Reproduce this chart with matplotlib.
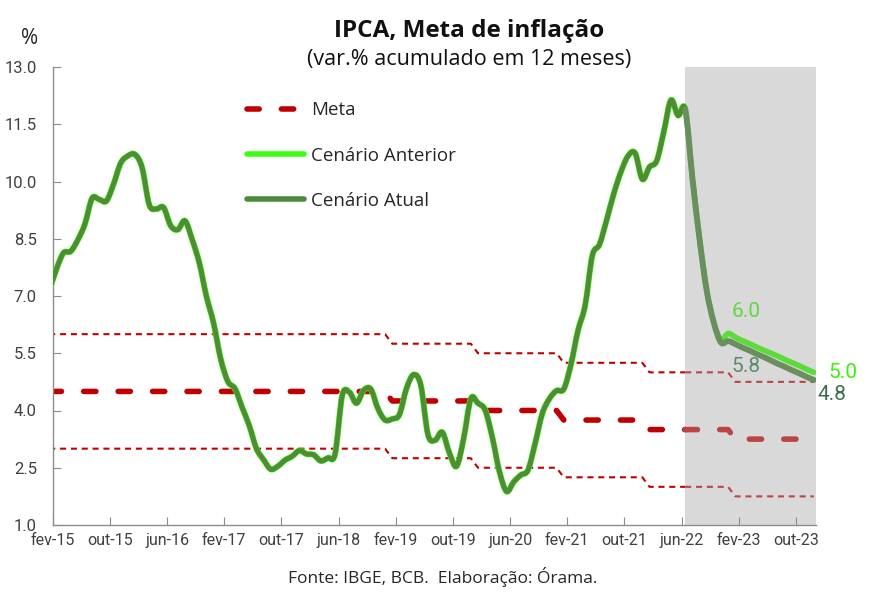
import numpy as np
import matplotlib
matplotlib.use("Agg")
import matplotlib.pyplot as plt
from matplotlib.lines import Line2D
from matplotlib.path import Path
from matplotlib.patches import PathPatch

plt.rcParams['font.family'] = ['Open Sans', 'DejaVu Sans']

# ---------------- data ----------------
# IPCA 12-month accumulated, monthly, Jan-2015 .. Jun-2022 (realized)
ipca_hist = [
    7.14, 7.70, 8.13, 8.17, 8.47, 8.89, 9.56, 9.53, 9.49, 9.93, 10.48, 10.67,   # 2015
    10.71, 10.36, 9.39, 9.28, 9.32, 8.84, 8.74, 8.97, 8.48, 7.87, 6.99, 6.29,   # 2016
    5.35, 4.76, 4.57, 4.08, 3.60, 3.00, 2.71, 2.46, 2.54, 2.70, 2.80, 2.95,     # 2017
    2.86, 2.84, 2.68, 2.76, 2.86, 4.39, 4.48, 4.19, 4.53, 4.56, 4.05, 3.75,     # 2018
    3.78, 3.89, 4.58, 4.94, 4.66, 3.37, 3.22, 3.43, 2.89, 2.54, 3.27, 4.31,     # 2019
    4.19, 4.01, 3.30, 2.40, 1.88, 2.13, 2.31, 2.44, 3.14, 3.92, 4.31, 4.52,     # 2020
    4.56, 5.20, 6.10, 6.76, 8.06, 8.35, 8.99, 9.68, 10.25, 10.67, 10.74, 10.06, # 2021
    10.38, 10.54, 11.30, 12.13, 11.73, 11.89,                                   # 2022 H1
]
# Projections Jul-2022 .. Dec-2023
cenario_atual = [10.10, 8.50, 7.15, 6.30, 5.78, 5.82,
                 5.74, 5.65, 5.57, 5.48, 5.40, 5.31, 5.22, 5.14, 5.05, 4.97, 4.88, 4.80]
cenario_anterior = [10.10, 8.50, 7.15, 6.30, 5.86, 6.02,
                    5.92, 5.83, 5.75, 5.66, 5.58, 5.50, 5.42, 5.33, 5.25, 5.17, 5.08, 5.00]
# Inflation target and tolerance band by year 2015..2023
anos = [2015, 2016, 2017, 2018, 2019, 2020, 2021, 2022, 2023]
meta_anual = [4.5, 4.5, 4.5, 4.5, 4.25, 4.0, 3.75, 3.5, 3.25]
teto_anual = [6.0, 6.0, 6.0, 6.0, 5.75, 5.5, 5.25, 5.0, 4.75]
piso_anual = [3.0, 3.0, 3.0, 3.0, 2.75, 2.5, 2.25, 2.0, 1.75]

tick_labels = ['fev-15', 'out-15', 'jun-16', 'fev-17', 'out-17', 'jun-18', 'fev-19',
               'out-19', 'jun-20', 'fev-21', 'out-21', 'jun-22', 'fev-23', 'out-23']
y_ticks = [1.0, 2.5, 4.0, 5.5, 7.0, 8.5, 10.0, 11.5, 13.0]
rotulos = {'ant_dez22': '6.0', 'atu_dez22': '5.8', 'ant_dez23': '5.0', 'atu_dez23': '4.8'}

# ---------------- build series ----------------
n_hist = len(ipca_hist)
meta = np.repeat(meta_anual, 12)
teto = np.repeat(teto_anual, 12)
piso = np.repeat(piso_anual, 12)
n_tot = len(meta)
x = np.arange(n_tot, dtype=float)
split = n_hist - 1  # Jun-2022 index

atual_full = np.array(ipca_hist + cenario_atual, dtype=float)
ant_full = np.array(ipca_hist + cenario_anterior, dtype=float)


def smooth_path(xs, ys, i0, i1):
    """Excel-like smoothed line (cubic Bezier, Catmull-Rom control points)
    through the data points, for segments i0..i1."""
    n = len(xs)
    pts = np.column_stack([xs, ys])
    verts = [pts[i0]]
    codes = [Path.MOVETO]
    for i in range(i0, i1):
        p0 = pts[max(i - 1, 0)]
        p1 = pts[i]
        p2 = pts[i + 1]
        p3 = pts[min(i + 2, n - 1)]
        c1 = p1 + (p2 - p0) / 6.0
        c2 = p2 - (p3 - p1) / 6.0
        verts += [c1, c2, p2]
        codes += [Path.CURVE4] * 3
    return Path(np.array(verts), codes)


def draw_smooth(ax, xs, ys, i0, i1, color, lw, z):
    patch = PathPatch(smooth_path(xs, ys, i0, i1), fill=False, edgecolor=color,
                      lw=lw, zorder=z, capstyle='round', joinstyle='round')
    ax.add_patch(patch)


# ---------------- figure ----------------
fig = plt.figure(figsize=(8.86, 5.92), dpi=100)
ax = fig.add_axes([52.8 / 886, 1 - 525 / 592, (816 - 52.8) / 886, (525 - 67) / 592])

x0 = 0.5
xmax = x0 + (816 - 52.8) / 7.146
ax.set_xlim(x0, xmax)
ax.set_ylim(1.0, 13.0)

# shaded projection area
ax.axvspan(split, xmax, color='#d9d9d9', zorder=0, lw=0)

red = '#c00000'
red_p = '#b94545'
thin_dash = (2.9, 2.3)
thick_dash = (2.2, 4.0)

for serie in (teto, piso):
    ax.plot(x[:split + 1], serie[:split + 1], color=red, lw=1.5, dashes=thin_dash,
            dash_capstyle='butt', zorder=2)
    ax.plot(x[split:], serie[split:], color=red_p, lw=1.5, dashes=thin_dash,
            dash_capstyle='butt', zorder=2)
ax.plot(x[:split + 1], meta[:split + 1], color=red, lw=4, dashes=thick_dash,
        dash_capstyle='round', zorder=2)
ax.plot(x[split:], meta[split:], color=red_p, lw=4, dashes=thick_dash,
        dash_capstyle='round', zorder=2)

# scenario lines (smoothed like the original)
draw_smooth(ax, x, ant_full, 0, split, '#44ff14', 4.4, 3)
draw_smooth(ax, x, ant_full, split, n_tot - 1, '#5cdc3a', 4.0, 3)
draw_smooth(ax, x, atual_full, 0, split, '#4e8c35', 3.6, 4)
draw_smooth(ax, x, atual_full, split, n_tot - 1, '#6b8e5e', 4.2, 4)

# value labels
lab_font = ['Roboto', 'DejaVu Sans']
ax.text(97.5, 6.59, rotulos['ant_dez22'], color='#5fd83f', fontsize=15, ha='center', va='center',
        clip_on=False, family=lab_font)
ax.text(97.5, 5.15, rotulos['atu_dez22'], color='#5f8a6e', fontsize=15, ha='center', va='center',
        clip_on=False, family=lab_font)
ax.text(111.1, 5.0, rotulos['ant_dez23'], color='#3af00f', fontsize=15, ha='center', va='center',
        clip_on=False, family=lab_font)
ax.text(109.5, 4.43, rotulos['atu_dez23'], color='#3b6e4f', fontsize=15, ha='center', va='center',
        clip_on=False, family=lab_font)

# axes styling
for s in ('top', 'right'):
    ax.spines[s].set_visible(False)
for s in ('left', 'bottom'):
    ax.spines[s].set_color('#8c8c8c')
    ax.spines[s].set_linewidth(1.0)
ax.set_yticks(y_ticks)
ax.set_yticklabels([f'{v:.1f}' for v in y_ticks])
ax.set_xticks([x0 + 8 * k for k in range(len(tick_labels))])
ax.set_xticklabels(tick_labels)
ax.tick_params(axis='y', direction='in', length=6, color='#8c8c8c', pad=11.5,
               labelsize=12, labelcolor='#404040')
ax.tick_params(axis='x', direction='in', length=6, color='#8c8c8c', pad=6,
               labelsize=11.5, labelcolor='#404040')
for t in ax.get_xticklabels() + ax.get_yticklabels():
    t.set_family(['Roboto', 'DejaVu Sans'])

# legend
handles = [
    Line2D([], [], color=red, lw=4, dashes=(2.2, 4.0), dash_capstyle='round'),
    Line2D([], [], color='#3cff0f', lw=4, solid_capstyle='round'),
    Line2D([], [], color='#4b8b3b', lw=4, solid_capstyle='round'),
]
leg = ax.legend(handles, ['Meta', 'Cenário Anterior', 'Cenário Atual'],
                loc='upper left', bbox_to_anchor=(0.255, 0.925), frameon=False,
                borderaxespad=0, borderpad=0, handlelength=3.0, handletextpad=0.4,
                labelspacing=1.45, fontsize=13.5)
for t in leg.get_texts():
    t.set_color('#262626')

# titles
fig.text(469 / 886, 1 - 37 / 592, 'IPCA, Meta de inflação', ha='center', va='baseline',
         fontsize=17.5, fontweight='bold', color='#111111')
fig.text(469 / 886, 1 - 65 / 592, '(var.% acumulado em 12 meses)', ha='center', va='baseline',
         fontsize=15.5, color='#111111')
fig.text(30 / 886, 1 - 38 / 592, '%', ha='center', va='center', fontsize=15, color='#262626')
fig.text(443 / 886, 1 - 577 / 592, 'Fonte: IBGE, BCB.  Elaboração: Órama.', ha='center',
         va='center', fontsize=12.5, color='#262626')

fig.savefig('out.png', dpi=100)
